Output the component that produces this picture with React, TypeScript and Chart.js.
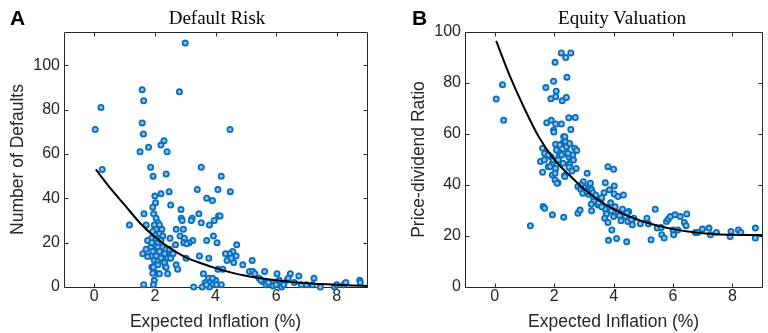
import React, { useEffect, useRef } from "react";
import { Chart, registerables } from "chart.js";
Chart.register(...registerables);

const AXIS = "#262626";
const FONT = "'Liberation Sans', Arial, Helvetica, sans-serif";
const SERIF = "'Liberation Serif', 'Times New Roman', serif";
const EDGE = "#0072BD";
const FILL = "#a4b8ec";

const xTicks = [0, 2, 4, 6, 8];
const defaultsYTicks = [0, 20, 40, 60, 80, 100];
const pdYTicks = [0, 20, 40, 60, 80, 100];

const defaultsX = [
  0.03, 0.22, 0.26, 1.16, 1.58, 1.63, 1.58, 1.62, 1.51, 1.79, 1.86, 1.94, 2.2, 2.3, 2.4, 2.37, 2.0, 2.02, 2.2, 2.47,
  2.52, 2.81, 3.0, 2.86, 2.87, 2.9, 3.53, 3.4, 3.45, 3.23, 3.2, 3.71, 3.9, 3.8, 3.53, 4.08, 4.19, 4.48, 4.49, 3.96,
  4.1, 4.15, 3.93, 4.05, 3.71, 3.25, 3.13, 2.7, 2.94, 2.83, 2.97, 2.95, 3.05, 3.03, 3.47, 3.78, 2.5, 2.68, 2.7, 2.75,
  2.42, 2.1, 1.97, 1.9, 1.64, 1.96, 2.04, 2.1, 1.98, 2.15, 1.71, 2.23, 2.04, 1.93, 2.15, 2.26, 1.89, 2.04, 2.2, 1.76,
  1.98, 2.1, 2.26, 1.87, 2.37, 2.48, 1.71, 1.6, 1.93, 2.15, 2.32, 2.55, 2.6, 2.04, 1.87, 1.76, 2.2, 2.42, 2.52, 1.98,
  2.32, 2.09, 2.1, 2.35, 1.95, 2.37, 1.93, 2.15, 1.98, 1.63, 1.95, 1.93, 1.9, 3.28, 3.6, 3.77, 3.66, 3.82, 3.9, 4.0,
  3.56, 3.8, 4.04, 4.19, 3.9, 3.7, 4.7, 4.57, 4.68, 4.46, 4.33, 4.38, 4.6, 4.52, 4.9, 5.21, 5.12, 5.23, 5.3, 4.08,
  4.24, 5.62, 5.44, 5.56, 5.67, 5.84, 5.9, 6.03, 6.1, 6.18, 6.25, 6.36, 6.47, 6.4, 6.75, 6.83, 7.0, 7.2, 7.25, 7.46,
  7.93, 8.0, 8.23, 8.3, 8.76, 8.78, 5.5, 5.75, 6.0, 6.6,
];
const defaultsY = [
  71, 81, 53, 28, 89, 84, 74, 69, 61, 63, 54, 50, 64, 66, 61, 51, 41, 38, 42, 43,
  37, 88, 110, 35, 31, 30, 54, 44, 33, 31, 30, 40, 39, 28, 29, 44, 50, 71, 43, 30,
  32, 32, 23, 20, 21, 21, 20, 26, 26, 23, 22, 20, 19.5, 13, 14, 13, 22, 19, 10, 8,
  6, 6, 7, 9, 33, 33, 31, 29, 28, 28, 28, 26, 26, 25, 24, 23, 22, 22, 21, 21,
  19, 18, 18, 18, 17, 17, 17, 15, 16, 16, 15, 15, 15, 14, 14, 13.7, 13, 13, 13, 12,
  11, 11.4, 10, 9, 8.9, 8.9, 6.2, 6, 3, 1, 1, 36, 20, 0, 6, 4, 2, 2, 1, 3,
  0, 0, 1, 1, 4, 1, 19, 16, 14, 15, 15, 12, 11, 13, 10, 12, 7, 7, 6, 8,
  8, 7, 4, 2.5, 1, 2, 0.5, 6, 3, 0, 1, 3, 6, 4, 5, 1, 1, 1, 4, 0,
  0, 1, 1, 2, 3, 2, 3, 2, 1, 2,
];

const pdX = [
  0.05, 0.26, 0.3, 1.2, 2.24, 2.39, 2.56, 2.03, 2.43, 1.98, 1.72, 2.07, 2.05, 1.89, 2.41, 2.27, 2.49, 2.71, 1.75, 1.9,
  2.05, 2.24, 2.56, 1.98, 1.99, 1.61, 1.54, 1.61, 1.68, 1.67, 1.8, 1.89, 1.94, 1.94, 2.05, 2.13, 2.05, 2.16, 2.27, 2.32,
  2.38, 2.43, 2.32, 2.16, 2.49, 2.35, 2.52, 2.69, 2.76, 2.62, 2.65, 2.74, 1.81, 1.97, 2.03, 2.08, 2.19, 2.36, 2.41, 2.52,
  2.25, 2.47, 2.14, 2.3, 2.52, 2.03, 2.36, 2.1, 1.86, 1.63, 1.68, 1.94, 2.32, 2.8, 2.87, 2.8, 2.89, 2.96, 3.11, 2.98,
  3.2, 3.22, 3.26, 3.15, 3.31, 3.42, 3.33, 3.48, 3.57, 3.68, 3.72, 3.81, 4.0, 3.86, 4.02, 4.02, 4.15, 4.33, 3.26, 3.72,
  3.92, 3.76, 3.7, 3.81, 3.94, 3.83, 4.1, 4.44, 4.0, 4.15, 4.25, 4.4, 4.51, 4.48, 4.63, 4.68, 4.9, 5.12, 5.17, 5.26,
  5.4, 5.47, 5.6, 5.62, 5.7, 5.78, 5.84, 5.91, 6.0, 6.02, 6.07, 6.16, 6.24, 6.38, 6.44, 6.46, 6.75, 6.83, 6.99, 7.21,
  7.26, 7.46, 7.92, 7.95, 8.2, 8.28, 8.77, 8.77, 3.0, 3.1, 3.3, 3.4, 3.5, 3.6, 2.9, 3.25, 3.6, 3.9, 4.05, 4.3,
  4.45, 4.6, 4.2, 2.5, 2.6,
];
const pdY = [
  73.7, 79.3, 65.4, 24, 91.8, 90, 91.8, 88.1, 82.3, 80.7, 78.2, 76.8, 74.6, 73.8, 74.3, 73, 66.4, 66.5, 64.4, 65.4,
  63.9, 63.9, 61.8, 61.5, 60.8, 54.4, 49.2, 45, 52.4, 49.8, 47.2, 51.1, 48.5, 43.9, 46.5, 40.9, 56, 53, 56.3, 58.9,
  57, 55, 52.4, 51.1, 51.1, 43.7, 48.5, 54.4, 53.5, 51.8, 49.8, 46.5, 51.8, 49.8, 44.6, 53.7, 55.7, 58.9, 55, 56.3,
  51.8, 52.4, 49.8, 48.5, 48.1, 42, 43.3, 40.7, 47.2, 31.6, 30.9, 28.3, 27.4, 28.9, 30.2, 39.4, 38.3, 36.8, 44.6, 41.3,
  40, 40.7, 38.1, 36.4, 35.5, 34.2, 33.5, 32.2, 34.2, 37, 40.9, 47.2, 46.2, 38.1, 39.6, 36.5, 35.5, 36.1, 29.9, 30.6,
  29.9, 28.6, 27, 25.3, 22.4, 18.3, 19, 17.7, 27.6, 29.2, 26, 27.6, 29.6, 25.7, 24.4, 27, 24.8, 27, 24.8, 18.5,
  30.5, 23.1, 23.3, 20.5, 19.2, 25.7, 26.7, 27.6, 22.4, 20.5, 28.3, 22.4, 27.6, 25.3, 24, 28.6, 21.4, 21.4, 22.7, 23.1,
  20.5, 21.4, 19.8, 21.8, 22.4, 21.4, 23.1, 19.2, 39, 37.5, 37, 36, 33, 31.5, 40, 32.5, 35, 33, 31.5, 30.5,
  29, 26.5, 28, 47, 45.5,
];

const fitX = [0.05, 0.5, 1, 1.5, 2, 2.5, 3, 3.5, 4, 4.5, 5, 5.5, 6, 6.5, 7, 7.5, 8, 8.5, 9];
const defaultsFit = [53, 45, 37, 29, 22.5, 17.5, 13.5, 10.8, 8.5, 6.6, 5.1, 3.9, 3.0, 2.3, 1.7, 1.3, 1.0, 0.7, 0.5];
const pdFit = [96.5, 83, 70, 58.5, 50, 44, 38.5, 34, 30.5, 27.8, 25.7, 24, 22.7, 21.8, 21.1, 20.7, 20.5, 20.4, 20.4];

const boxPlugin = {
  id: "matlabBox",
  beforeDatasetsDraw(chart: any) {
    const { ctx, chartArea, scales } = chart;
    const { left, right, top, bottom } = chartArea;
    const r = (v: number) => Math.round(v) + 0.5;
    ctx.save();
    ctx.strokeStyle = AXIS;
    ctx.lineWidth = 1;
    ctx.beginPath();
    ctx.rect(r(left), r(top), Math.round(right) - Math.round(left), Math.round(bottom) - Math.round(top));
    const tl = 4;
    for (const t of scales.x.ticks) {
      const px = r(scales.x.getPixelForValue(t.value));
      ctx.moveTo(px, r(bottom));
      ctx.lineTo(px, r(bottom) - tl);
      ctx.moveTo(px, r(top));
      ctx.lineTo(px, r(top) + tl);
    }
    for (const t of scales.y.ticks) {
      const py = r(scales.y.getPixelForValue(t.value));
      ctx.moveTo(r(left), py);
      ctx.lineTo(r(left) + tl, py);
      ctx.moveTo(r(right), py);
      ctx.lineTo(r(right) - tl, py);
    }
    ctx.stroke();
    ctx.restore();
  },
};

type PanelProps = {
  xs: number[];
  ys: number[];
  fit: number[];
  yMax: number;
  yTicks: number[];
  yTitle: string;
  yAxisWidth: number;
  yTitlePad: number;
  rightPad: number;
  width: number;
};

function Panel(p: PanelProps) {
  const ref = useRef<HTMLCanvasElement | null>(null);
  useEffect(() => {
    if (!ref.current) return;
    const chart = new Chart(ref.current, {
      type: "scatter",
      data: {
        datasets: [
          {
            type: "line",
            data: fitX.map((x, i) => ({ x, y: p.fit[i] })),
            borderColor: "#000000",
            borderWidth: 2,
            pointRadius: 0,
            cubicInterpolationMode: "monotone",
            fill: false,
            order: 0,
          } as any,
          {
            type: "scatter",
            data: p.xs.map((x, i) => ({ x, y: p.ys[i] })),
            pointRadius: 2.6,
            pointBorderWidth: 1.8,
            pointBorderColor: EDGE,
            pointBackgroundColor: FILL,
            clip: 8,
            order: 1,
          } as any,
        ],
      },
      options: {
        animation: false,
        responsive: false,
        devicePixelRatio: 1,
        layout: { padding: { top: 32, right: p.rightPad, left: 0, bottom: 0 } },
        plugins: { legend: { display: false }, tooltip: { enabled: false }, title: { display: false } },
        scales: {
          x: {
            type: "linear",
            min: -1,
            max: 9,
            afterBuildTicks: (s: any) => {
              s.ticks = xTicks.map((v) => ({ value: v }));
            },
            afterFit: (s: any) => {
              s.height = 46;
            },
            grid: { display: false, drawTicks: false },
            border: { display: false },
            ticks: { color: AXIS, font: { family: FONT, size: 16 }, padding: 0, maxRotation: 0 },
            title: {
              display: true,
              text: "Expected Inflation (%)",
              color: AXIS,
              font: { family: FONT, size: 17.5 },
              padding: { top: 0, bottom: 0 },
            },
          },
          y: {
            type: "linear",
            min: 0,
            max: p.yMax,
            afterBuildTicks: (s: any) => {
              s.ticks = p.yTicks.map((v) => ({ value: v }));
            },
            afterFit: (s: any) => {
              s.width = p.yAxisWidth;
            },
            grid: { display: false, drawTicks: false },
            border: { display: false },
            ticks: { color: AXIS, font: { family: FONT, size: 16 }, padding: 4 },
            title: {
              display: true,
              text: p.yTitle,
              color: AXIS,
              font: { family: FONT, size: 17.5 },
              padding: { top: p.yTitlePad, bottom: 0 },
            },
          },
        },
      } as any,
      plugins: [boxPlugin],
    });
    return () => chart.destroy();
  }, []);
  return <canvas ref={ref} width={p.width} height={333} style={{ display: "block" }} />;
}

const letterStyle: React.CSSProperties = {
  position: "absolute",
  top: 7,
  fontFamily: FONT,
  fontWeight: "bold",
  fontSize: 21,
  lineHeight: 1,
  color: "#000",
};
const titleStyle: React.CSSProperties = {
  position: "absolute",
  top: 7.5,
  width: 300,
  textAlign: "center",
  fontFamily: SERIF,
  fontSize: 19,
  lineHeight: 1,
  color: "#000",
  whiteSpace: "nowrap",
};

export default function App() {
  return (
    <div style={{ position: "fixed", left: 0, top: 0, width: 768, height: 333, background: "#fff", overflow: "hidden" }}>
      <div style={{ position: "absolute", left: 0, top: 0 }}>
        <Panel
          xs={defaultsX}
          ys={defaultsY}
          fit={defaultsFit}
          yMax={115}
          yTicks={defaultsYTicks}
          yTitle="Number of Defaults"
          yAxisWidth={64}
          yTitlePad={7.5}
          rightPad={17}
          width={384}
        />
      </div>
      <div style={{ position: "absolute", left: 384, top: 0 }}>
        <Panel
          xs={pdX}
          ys={pdY}
          fit={pdFit}
          yMax={100}
          yTicks={pdYTicks}
          yTitle="Price-dividend Ratio"
          yAxisWidth={81}
          yTitlePad={24.5}
          rightPad={0}
          width={384}
        />
      </div>
      <div style={{ ...letterStyle, left: 10 }}>A</div>
      <div style={{ ...letterStyle, left: 412 }}>B</div>
      <div style={{ ...titleStyle, left: 217 - 150 }}>Default Risk</div>
      <div style={{ ...titleStyle, left: 622 - 150 }}>Equity Valuation</div>
    </div>
  );
}
